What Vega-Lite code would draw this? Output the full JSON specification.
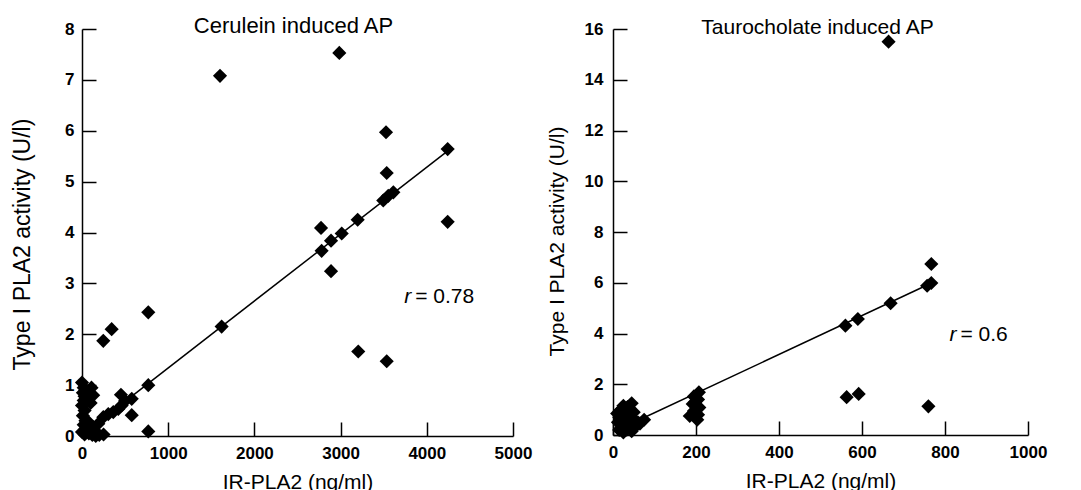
{
  "$schema": "https://vega.github.io/schema/vega-lite/v6.json",
  "background": "white",
  "padding": {"left": 11, "top": 15, "right": 5, "bottom": 0},
  "spacing": 100,
  "bounds": "flush",
  "config": {
    "view": {"stroke": null},
    "font": "Liberation Sans",
    "axis": {
      "domainColor": "black", "domainWidth": 1.5,
      "tickColor": "black", "tickWidth": 1.5,
      "labelFont": "Liberation Sans", "labelFontWeight": "bold", "labelFontSize": 17, "labelColor": "black",
      "titleFont": "Liberation Sans", "titleFontWeight": "normal", "titleFontSize": 21, "titleColor": "black",
      "grid": false, "labelFlush": false, "format": "d"
    }
  },
  "datasets": {
    "cerulein": [
      {"x": 1601, "y": 7.08}, {"x": 2985, "y": 7.53}, {"x": 3527, "y": 5.97}, {"x": 4242, "y": 5.64},
      {"x": 3535, "y": 5.17}, {"x": 3495, "y": 4.63}, {"x": 3553, "y": 4.72}, {"x": 3612, "y": 4.79},
      {"x": 4242, "y": 4.21}, {"x": 3198, "y": 4.25}, {"x": 3013, "y": 3.98}, {"x": 2773, "y": 4.09},
      {"x": 2889, "y": 3.84}, {"x": 2780, "y": 3.64}, {"x": 2889, "y": 3.24}, {"x": 3205, "y": 1.66},
      {"x": 3535, "y": 1.47}, {"x": 1620, "y": 2.15}, {"x": 769, "y": 2.43}, {"x": 344, "y": 2.1},
      {"x": 247, "y": 1.87}, {"x": 769, "y": 1.0}, {"x": 577, "y": 0.73}, {"x": 577, "y": 0.41},
      {"x": 769, "y": 0.09}, {"x": 452, "y": 0.81},
      {"x": 247, "y": 0.37}, {"x": 305, "y": 0.43}, {"x": 363, "y": 0.47}, {"x": 421, "y": 0.53},
      {"x": 460, "y": 0.6}, {"x": 499, "y": 0.69}, {"x": 189, "y": 0.24}, {"x": 131, "y": 0.17},
      {"x": 0, "y": 1.05}, {"x": 20, "y": 0.95}, {"x": 40, "y": 0.9}, {"x": 10, "y": 0.85},
      {"x": 30, "y": 0.78}, {"x": 60, "y": 0.88}, {"x": 80, "y": 0.82}, {"x": 20, "y": 0.7},
      {"x": 0, "y": 0.6}, {"x": 30, "y": 0.5}, {"x": 10, "y": 0.4}, {"x": 40, "y": 0.3},
      {"x": 20, "y": 0.22}, {"x": 60, "y": 0.15}, {"x": 0, "y": 0.08}, {"x": 30, "y": 0.03},
      {"x": 80, "y": 0.05}, {"x": 120, "y": 0.02}, {"x": 160, "y": 0.0}, {"x": 200, "y": 0.02},
      {"x": 100, "y": 0.12}, {"x": 140, "y": 0.1}, {"x": 60, "y": 0.3}, {"x": 90, "y": 0.2},
      {"x": 110, "y": 0.95}, {"x": 130, "y": 0.8}, {"x": 100, "y": 0.65}, {"x": 250, "y": 0.03}
    ],
    "ceruleinLine": [{"x": 150, "y": 0.22}, {"x": 4240, "y": 5.6}],
    "ceruleinNote": [{"x": 3830, "y": 2.61, "r": "r", "rest": "= 0.78"}],
    "tauro": [
      {"x": 664, "y": 15.5}, {"x": 767, "y": 6.74}, {"x": 757, "y": 5.88}, {"x": 767, "y": 5.99},
      {"x": 669, "y": 5.19}, {"x": 590, "y": 4.57}, {"x": 560, "y": 4.31}, {"x": 563, "y": 1.49},
      {"x": 592, "y": 1.62}, {"x": 760, "y": 1.13},
      {"x": 207, "y": 1.68}, {"x": 195, "y": 1.52}, {"x": 205, "y": 1.4}, {"x": 192, "y": 1.22},
      {"x": 208, "y": 1.08}, {"x": 195, "y": 0.95}, {"x": 185, "y": 0.75}, {"x": 205, "y": 0.8},
      {"x": 203, "y": 0.6}, {"x": 198, "y": 1.3},
      {"x": 10, "y": 0.85}, {"x": 15, "y": 0.7}, {"x": 12, "y": 0.5}, {"x": 20, "y": 1.0},
      {"x": 25, "y": 1.15}, {"x": 30, "y": 0.9}, {"x": 35, "y": 1.1}, {"x": 45, "y": 1.25},
      {"x": 20, "y": 0.3}, {"x": 25, "y": 0.1}, {"x": 30, "y": 0.55}, {"x": 40, "y": 0.8},
      {"x": 40, "y": 0.4}, {"x": 50, "y": 0.6}, {"x": 30, "y": 0.2}, {"x": 45, "y": 0.15},
      {"x": 55, "y": 0.35}, {"x": 60, "y": 0.5}, {"x": 50, "y": 0.9}, {"x": 15, "y": 0.2},
      {"x": 75, "y": 0.6}, {"x": 65, "y": 0.45}
    ],
    "tauroLine": [{"x": 60, "y": 0.57}, {"x": 765, "y": 5.97}],
    "tauroNote": [{"x": 830, "y": 3.71, "r": "r", "rest": "= 0.6"}]
  },
  "hconcat": [
    {
      "width": 431, "height": 407,
      "title": {"text": "Cerulein induced AP", "fontSize": 22, "fontWeight": "normal", "font": "Liberation Sans", "color": "black", "baseline": "alphabetic", "offset": -2, "dy": 33, "frame": "group", "anchor": "middle", "dx": -4},
      "layer": [
        {"data": {"name": "cerulein"}, "mark": {"type": "point", "shape": "diamond", "filled": true, "color": "black", "size": 200, "opacity": 1},
         "encoding": {
           "x": {"field": "x", "type": "quantitative", "scale": {"domain": [0, 5000], "nice": false},
                 "axis": {"orient": "bottom", "title": "IR-PLA2 (ng/ml)", "values": [0, 1000, 2000, 3000, 4000, 5000], "ticks": false, "tickSize": 0, "labelPadding": 9, "titleBaseline": "top", "titleY": 35}},
           "y": {"field": "y", "type": "quantitative", "scale": {"domain": [0, 8], "nice": false},
                 "axis": {"orient": "left", "title": "Type I PLA2 activity (U/l)", "values": [0, 1, 2, 3, 4, 5, 6, 7, 8], "ticks": false, "tickSize": 0, "labelPadding": 8, "titleFontSize": 23, "titleBaseline": "alphabetic", "titleX": -53, "titleY": 215}}
         }},
        {"data": {"name": "ceruleinLine"}, "mark": {"type": "line", "color": "black", "strokeWidth": 1.5},
         "encoding": {
           "x": {"field": "x", "type": "quantitative",
                 "axis": {"orient": "top", "offset": -407, "title": null, "values": [0, 1000, 2000, 3000, 4000, 5000], "labels": false, "domain": false, "ticks": true, "tickSize": 14}},
           "y": {"field": "y", "type": "quantitative",
                 "axis": {"orient": "right", "offset": -431, "title": null, "values": [0, 1, 2, 3, 4, 5, 6, 7, 8], "labels": false, "domain": false, "ticks": true, "tickSize": 14}}
         }},
        {"data": {"name": "ceruleinNote"}, "mark": {"type": "text", "align": "right", "baseline": "alphabetic", "fontStyle": "italic", "fontSize": 21, "font": "Liberation Sans", "color": "black", "dx": -1},
         "encoding": {"x": {"field": "x", "type": "quantitative", "axis": null}, "y": {"field": "y", "type": "quantitative", "axis": null}, "text": {"field": "r"}}},
        {"data": {"name": "ceruleinNote"}, "mark": {"type": "text", "align": "left", "baseline": "alphabetic", "fontSize": 21, "font": "Liberation Sans", "color": "black", "dx": 3},
         "encoding": {"x": {"field": "x", "type": "quantitative", "axis": null}, "y": {"field": "y", "type": "quantitative", "axis": null}, "text": {"field": "rest"}}}
      ],
      "resolve": {"axis": {"x": "independent", "y": "independent"}}
    },
    {
      "width": 415, "height": 406,
      "title": {"text": "Taurocholate induced AP", "fontSize": 21, "fontWeight": "normal", "font": "Liberation Sans", "color": "black", "baseline": "alphabetic", "offset": -2, "dy": 33, "frame": "group", "anchor": "middle", "dx": -3},
      "layer": [
        {"data": {"name": "tauro"}, "mark": {"type": "point", "shape": "diamond", "filled": true, "color": "black", "size": 200, "opacity": 1},
         "encoding": {
           "x": {"field": "x", "type": "quantitative", "scale": {"domain": [0, 1000], "nice": false},
                 "axis": {"orient": "bottom", "title": "IR-PLA2 (ng/ml)", "values": [0, 200, 400, 600, 800, 1000], "ticks": false, "tickSize": 0, "labelPadding": 9, "titleBaseline": "top", "titleY": 35}},
           "y": {"field": "y", "type": "quantitative", "scale": {"domain": [0, 16], "nice": false},
                 "axis": {"orient": "left", "title": "Type I PLA2 activity (U/l)", "values": [0, 2, 4, 6, 8, 10, 12, 14, 16], "ticks": false, "tickSize": 0, "labelPadding": 10, "titleBaseline": "alphabetic", "titleX": -50, "titleY": 212}}
         }},
        {"data": {"name": "tauroLine"}, "mark": {"type": "line", "color": "black", "strokeWidth": 1.5},
         "encoding": {
           "x": {"field": "x", "type": "quantitative",
                 "axis": {"orient": "top", "offset": -406, "title": null, "values": [0, 200, 400, 600, 800, 1000], "labels": false, "domain": false, "ticks": true, "tickSize": 14}},
           "y": {"field": "y", "type": "quantitative",
                 "axis": {"orient": "right", "offset": -415, "title": null, "values": [0, 2, 4, 6, 8, 10, 12, 14, 16], "labels": false, "domain": false, "ticks": true, "tickSize": 14}}
         }},
        {"data": {"name": "tauroNote"}, "mark": {"type": "text", "align": "right", "baseline": "alphabetic", "fontStyle": "italic", "fontSize": 21, "font": "Liberation Sans", "color": "black", "dx": -1},
         "encoding": {"x": {"field": "x", "type": "quantitative", "axis": null}, "y": {"field": "y", "type": "quantitative", "axis": null}, "text": {"field": "r"}}},
        {"data": {"name": "tauroNote"}, "mark": {"type": "text", "align": "left", "baseline": "alphabetic", "fontSize": 21, "font": "Liberation Sans", "color": "black", "dx": 3},
         "encoding": {"x": {"field": "x", "type": "quantitative", "axis": null}, "y": {"field": "y", "type": "quantitative", "axis": null}, "text": {"field": "rest"}}}
      ],
      "resolve": {"axis": {"x": "independent", "y": "independent"}}
    }
  ],
  "resolve": {"scale": {"x": "independent", "y": "independent"}}
}
